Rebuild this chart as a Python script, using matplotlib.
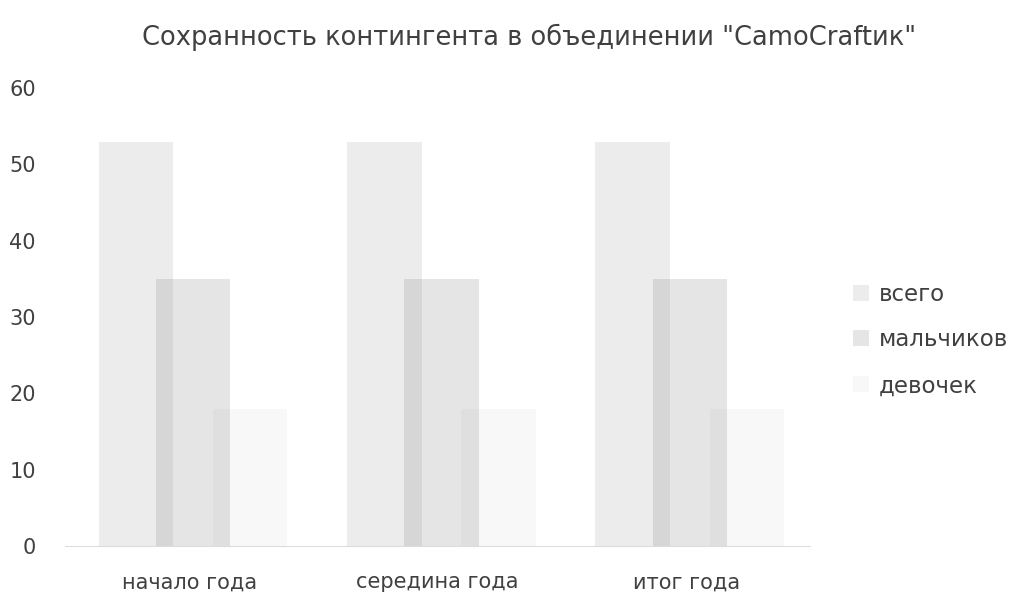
import numpy as np
import matplotlib
matplotlib.use("Agg")
import matplotlib.pyplot as plt

categories = ["начало года", "середина года", "итог года"]
series = ["всего", "мальчиков", "девочек"]
vsego = [53, 53, 53]
malchikov = [35, 35, 35]
devochek = [18, 18, 18]

plt.rcParams["font.family"] = ["DejaVu Sans"]
fig = plt.figure(figsize=(10.18, 5.97), dpi=100)
ax = fig.add_axes([0.064, 0.0854, 0.732, 0.767])

x = np.arange(len(categories))
width, step = 0.30, 0.23
for vals, off, alpha, label in zip([vsego, malchikov, devochek], [-step, 0, step],
                                   [0.15, 0.20, 0.05], series):
    ax.bar(x + off + 0.015, vals, width, color="#808080", alpha=alpha, linewidth=0, label=label)

ax.set_ylim(0, 60)
ax.set_xlim(-0.5, 2.5)
ax.set_yticks(range(0, 61, 10))
ax.set_xticks(x)
ax.set_xticklabels(categories)
ax.tick_params(length=0, labelsize=15, colors="#404040")
ax.tick_params(axis="y", pad=21)
ax.tick_params(axis="x", pad=19)
for s in ["top", "right", "left"]:
    ax.spines[s].set_visible(False)
ax.spines["bottom"].set_color("#dcdcdc")

fig.text(0.52, 0.937, 'Сохранность контингента в объединении "CamoCraftик"',
         ha="center", va="center", fontsize=18.5, color="#404040")

ax.legend(loc="center left", bbox_to_anchor=(1.03, 0.45), frameon=False,
          fontsize=16.5, labelspacing=1.0, handlelength=0.7, handleheight=0.7,
          handletextpad=0.4, labelcolor="#404040")

fig.savefig("out.png", dpi=100)
